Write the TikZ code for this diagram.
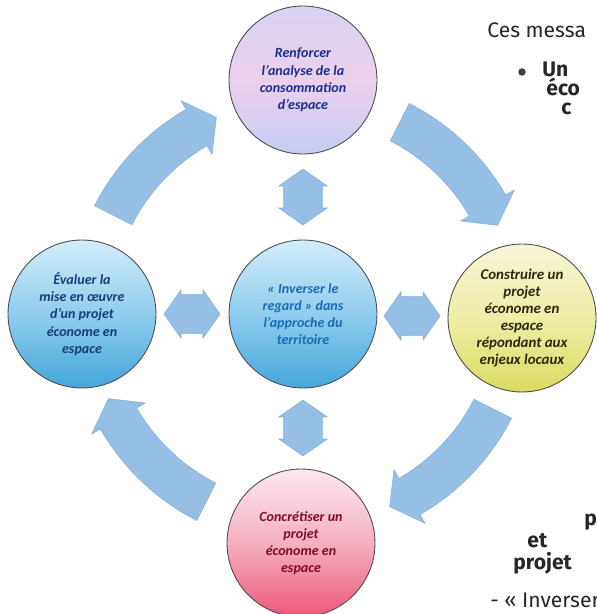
\documentclass[tikz,border=0pt]{standalone}
\usepackage{fontspec}
\setmainfont{Carlito}
\newfontfamily\notefont{Fira Sans}
\usetikzlibrary{shapes.arrows}

\definecolor{ringblue}{HTML}{96BFE6}
\definecolor{ringedge}{HTML}{84B0DD}
\definecolor{lilactop}{HTML}{D8D3F1}
\definecolor{lilacmid}{HTML}{EBD0EB}
\definecolor{lilacbot}{HTML}{C6CCF3}
\definecolor{skytop}{HTML}{D2EDF8}
\definecolor{skymid}{HTML}{8FCDEE}
\definecolor{skybot}{HTML}{45A6DC}
\definecolor{lemontop}{HTML}{F8F5D6}
\definecolor{lemonmid}{HTML}{EFEDA6}
\definecolor{lemonbot}{HTML}{D9DB62}
\definecolor{rosetop}{HTML}{FCE9EF}
\definecolor{rosemid}{HTML}{F5AFC2}
\definecolor{rosebot}{HTML}{EC5878}
\definecolor{inknavy}{HTML}{1F2F8F}
\definecolor{inkblue}{HTML}{1B6DB2}
\definecolor{inkdeep}{HTML}{16407C}
\definecolor{inkolive}{HTML}{2A2A12}
\definecolor{inkred}{HTML}{7E0F26}

\tikzset{
  bubble/.style={circle, draw=black!70, line width=0.5pt, minimum size=2.96cm,
    inner sep=0pt, align=center, font=\fontsize{8}{9.8}\selectfont\bfseries\itshape},
  lilac/.style={top color=lilactop, bottom color=lilacbot, middle color=lilacmid},
  sky/.style={top color=skytop, bottom color=skybot, middle color=skymid},
  lemon/.style={top color=lemontop, bottom color=lemonbot, middle color=lemonmid},
  rose/.style={top color=rosetop, bottom color=rosebot, middle color=rosemid},
  twoway/.style={double arrow, fill=ringblue, draw=ringedge, line width=0.3pt,
    minimum height=1.12cm, inner xsep=0pt, inner ysep=0.38cm,
    double arrow head extend=0.1cm, double arrow head indent=0pt,
    double arrow tip angle=110},
  ringarrow/.style={fill=ringblue, draw=ringedge, line width=0.3pt},
  sidetext/.style={anchor=base west, inner sep=0pt, text=black!85,
    font=\notefont\fontsize{12}{14}\selectfont},
  sidebold/.style={sidetext, font=\notefont\bfseries\fontsize{12}{14}\selectfont}
}

\begin{document}
\begin{tikzpicture}[x=0.02cm, y=0.02cm]
  \useasboundingbox (0,0) rectangle (597,-614);
  \clip (0,0) rectangle (597,-614);
  \coordinate (hub) at (303,-312);
  \begin{scope}[shift={(hub)}]
    \path[ringarrow] (153:234) arc[start angle=153, end angle=120, radius=234]
      -- (120:244) -- (114:213) -- (120:182) -- (120:192)
      arc[start angle=120, end angle=153, radius=192] -- cycle;
    \path[ringarrow] (63:234) arc[start angle=63, end angle=30, radius=234]
      -- (30:244) -- (24:213) -- (30:182) -- (30:192)
      arc[start angle=30, end angle=63, radius=192] -- cycle;
    \path[ringarrow] (-27:234) arc[start angle=-27, end angle=-60, radius=234]
      -- (-60:244) -- (-66:213) -- (-60:182) -- (-60:192)
      arc[start angle=-60, end angle=-27, radius=192] -- cycle;
    \path[ringarrow] (-117:234) arc[start angle=-117, end angle=-150, radius=234]
      -- (-150:244) -- (-156:213) -- (-150:182) -- (-150:192)
      arc[start angle=-150, end angle=-117, radius=192] -- cycle;
  \end{scope}

  \node[twoway, rotate=90] (ud1) at (303,-197) {};
  \node[twoway, rotate=90] (ud2) at (303,-428) {};
  \node[twoway] (lr1) at (192,-314) {};
  \node[twoway] (lr2) at (412,-316) {};

  \node[bubble, lilac, text=inknavy] (anal) at (303,-80)
    {Renforcer\\l’analyse de la\\consommation\\d’espace};
  \node[bubble, sky, text=inkblue] (regard) at (303,-314)
    {« Inverser le\\regard » dans\\l’approche du\\territoire};
  \node[bubble, sky, text=inkdeep] (eval) at (82,-314)
    {Évaluer la\\mise en œuvre\\d’un projet\\économe en\\espace};
  \node[bubble, lemon, text=inkolive, font=\fontsize{8.5}{9.7}\selectfont\bfseries\itshape] (build) at (522,-318)
    {Construire un\\projet\\économe en\\espace\\répondant aux\\enjeux locaux};
  \node[bubble, rose, text=inkred] (real) at (301,-543)
    {Concrétiser un\\projet\\économe en\\espace};

  \node[sidetext] (ces) at (487,-38) {Ces messa};
  \node[circle, fill=black!75, minimum size=0.15cm, inner sep=0pt] (dot) at (522,-72) {};
  \node[sidebold] (un) at (542,-77) {Un};
  \node[sidebold] (eco) at (546,-96) {éco};
  \node[sidebold] (cc) at (561,-115) {c};
  \node[sidebold] (pp) at (584,-525) {p};
  \node[sidebold] (et) at (527,-547) {et};
  \node[sidebold] (proj) at (513,-569) {projet};
  \node[sidetext] (inv) at (490,-607) {- « Inverser};
\end{tikzpicture}
\end{document}
